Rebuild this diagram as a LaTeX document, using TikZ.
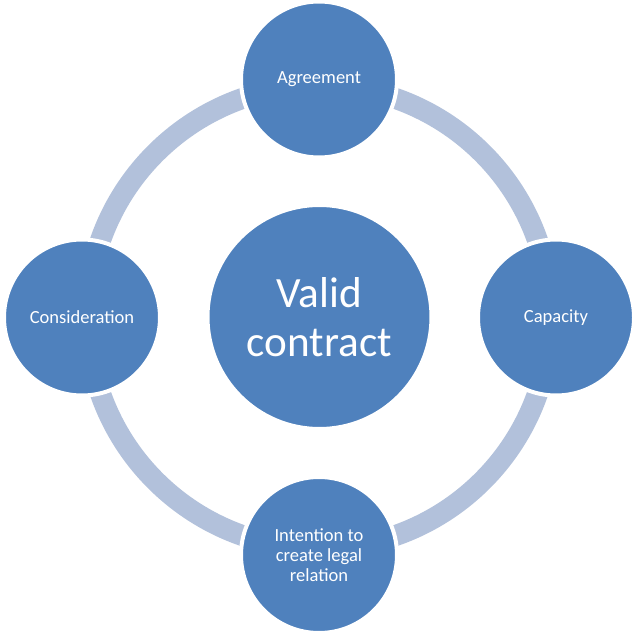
\documentclass[tikz,border=0pt]{standalone}
\usepackage{fontspec}
\setmainfont{Carlito}
\usetikzlibrary{positioning}
\definecolor{ringblue}{HTML}{B2C1DB}
\definecolor{discblue}{HTML}{4F81BD}
\begin{document}
\begin{tikzpicture}[x=0.75pt, y=-0.75pt]
		\tikzstyle{round} = [circle, draw=white, line width=3pt, fill=discblue, text=white, inner sep=0pt, align=center, font=\fontsize{13.9}{15}\selectfont]
		\tikzstyle{big} = [round, minimum size=168pt, font=\fontsize{32.4}{36.75}\selectfont]
		\tikzstyle{small} = [round, minimum size=117pt]
		\tikzstyle{band} = [draw=ringblue, line width=15.75pt]
		
		\useasboundingbox (0,0) rectangle (639,635);
		\coordinate (o) at (319,317);
		\draw[band] (o) circle[radius=231.5];
		
		\node[big]		at (319.5, 317)		(mid)	{Valid\\contract};
		\node[small]	at (319, 79.5)		(agr)	{Agreement};
		\node[small]	at (556, 317.5)		(cap)	{Capacity};
		\node[small]	at (319, 555)		(int)	{Intention to\\create legal\\relation};
		\node[small]	at (82, 317.5)		(con)	{Consideration};
		\end{tikzpicture}
\end{document}
